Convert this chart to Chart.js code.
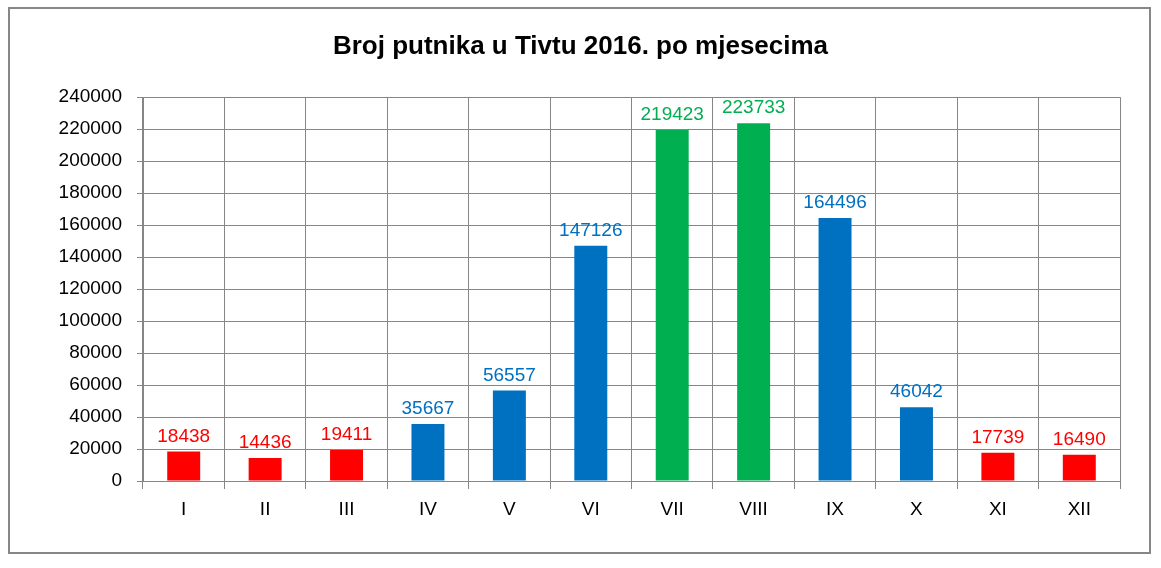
<!DOCTYPE html>
<html>
<head>
<meta charset="utf-8">
<script src="https://cdn.jsdelivr.net/npm/chart.js@4"></script>
<style>
  html, body { margin: 0; padding: 0; background: #fff; }
  #wrap { width: 1161px; height: 568px; position: relative; }
</style>
</head>
<body>
<div id="wrap"><canvas id="grafPutnici"></canvas></div>
<script>
// podaci - broj putnika po mjesecima
const mjeseci = ["I", "II", "III", "IV", "V", "VI", "VII", "VIII", "IX", "X", "XI", "XII"]
const putnici = [18438, 14436, 19411, 35667, 56557, 147126, 219423, 223733, 164496, 46042, 17739, 16490]
const boje = ["#FF0000", "#FF0000", "#FF0000", "#0070C0", "#0070C0", "#0070C0", "#00B050", "#00B050", "#0070C0", "#0070C0", "#FF0000", "#FF0000"]
const naslov = "Broj putnika u Tivtu 2016. po mjesecima"

const FONT = "'Liberation Sans', Arial, sans-serif"

// okvir oko cijelog grafika
const okvir = {
  id: "okvir",
  beforeDraw(chart) {
    const c = chart.ctx
    c.save()
    c.fillStyle = "#fff"
    c.fillRect(0, 0, chart.width, chart.height)
    c.strokeStyle = "#878787"
    c.lineWidth = 2
    c.strokeRect(9, 8, 1141, 545)
    c.restore()
  },
}

// vrijednosti iznad stubaca
const oznake = {
  id: "oznake",
  afterDatasetsDraw(chart) {
    const c = chart.ctx
    const meta = chart.getDatasetMeta(0)
    c.save()
    c.font = "19px " + FONT
    c.textAlign = "center"
    c.textBaseline = "alphabetic"
    meta.data.forEach((bar, i) => {
      c.fillStyle = boje[i]
      c.fillText(String(putnici[i]), bar.x, bar.y - 10)
    })
    c.restore()
  },
}

new Chart(document.getElementById("grafPutnici"), {
  type: "bar",
  data: {
    labels: mjeseci,
    datasets: [
      {
        data: putnici,
        backgroundColor: boje,
        borderWidth: 0,
        barPercentage: 0.405,
        categoryPercentage: 1,
      },
    ],
  },
  options: {
    responsive: true,
    maintainAspectRatio: false,
    animation: false,
    layout: { padding: { left: 41, right: 41, top: 0, bottom: 0 } },
    plugins: {
      legend: { display: false },
      tooltip: { enabled: false },
      title: {
        display: true,
        text: naslov,
        color: "#000",
        font: { family: FONT, size: 26, weight: "bold", lineHeight: 1.2 },
        padding: { top: 31, bottom: 35 },
      },
    },
    scales: {
      x: {
        grid: { color: "#868686", lineWidth: 1, tickLength: 8, offset: true },
        border: { color: "#868686" },
        ticks: { color: "#000", font: { family: FONT, size: 19 }, padding: 9, maxRotation: 0 },
        afterFit(scale) { scale.height = 87 },
      },
      y: {
        min: 0,
        max: 240000,
        grid: { color: "#868686", lineWidth: 1, tickLength: 6 },
        border: { color: "#868686" },
        ticks: {
          stepSize: 20000,
          color: "#000",
          font: { family: FONT, size: 19 },
          padding: 15,
          callback: (v) => String(v),
        },
        afterFit(scale) { scale.width = 102 },
      },
    },
  },
  plugins: [okvir, oznake],
})
</script>
</body>
</html>
